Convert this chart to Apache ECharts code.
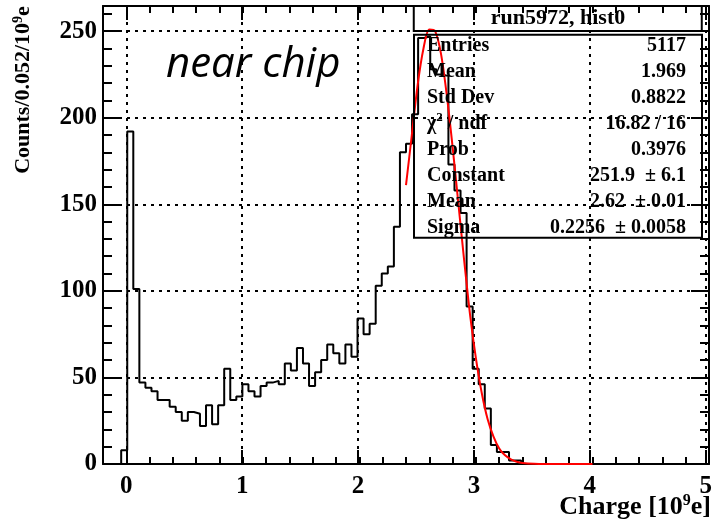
<!DOCTYPE html>
<html>
<head>
<meta charset="utf-8">
<script src="https://cdn.jsdelivr.net/npm/echarts@6/dist/echarts.min.js"></script>
<style>
html,body{margin:0;padding:0;background:#fff;}
#chart{width:715px;height:526px;}
</style>
</head>
<body>
<div id="chart"></div>
<script>
// ---------------- data ----------------
var BIN_LOW = -0.2;
var BIN_WIDTH = 0.052;
var counts = [0,0,0,8,192,101,47,44,42,37,37,33,30,25,30,29,22,34,23,34,
  55,37,39,46,42,39,45,47,48,46,58,54,67,58,45,53,60,69,64,58,69,62,
  84,75,81,103,110,114,137,180,185,202,246,247,228,225,224,173,158,145,
  91,55,46,32,11,7,7,2,2,
  0,0,0,0,0,0,0,0,0,0,0,0,0,0,0,0,0,0,0,0,0,0,0,0,0,0,0,0,0,0,0];
// Gaussian fit curve
var fitX = [2.40,2.45,2.50,2.55,2.60,2.65,2.70,2.75,2.80,2.85,2.90,2.95,3.00,3.05,3.10,3.15,3.20,3.25,3.30,3.35,3.40,3.50,3.60,3.80,4.00];
var fitY = [161,190,219,240,251,250,237,213,183,150,117,86,61,41,26,16,9,5,2.7,1.3,0.6,0.1,0,0,0];
// axes
var X_MIN = -0.2, X_MAX = 5;
var X_MAJOR_MIN = 0, X_MAJOR_STEP = 1, X_MINOR_STEP = 0.2;
var Y_MIN = 0, Y_MAX = 264.5;
var Y_MAJOR_STEP = 50, Y_MINOR_STEP = 10;
// stats box
var statsTitle = 'run5972, hist0';
var statsLabels = ['Entries','Mean','Std Dev','CHI','Prob','Constant','Mean','Sigma'];
var statsValues = ['5117','1.969','0.8822','16.82 / 16','0.3976','251.9  \u00b1 6.1','2.62  \u00b1 0.01','0.2256  \u00b1 0.0058'];
var annotation = 'near chip';

// ---------------- build ----------------
var histData = [];
for (var i = 0; i < counts.length; i++) histData.push([BIN_LOW + i * BIN_WIDTH, counts[i]]);
histData.push([BIN_LOW + counts.length * BIN_WIDTH, counts[counts.length - 1]]);
var fitData = fitX.map(function (x, k) { return [x, fitY[k]]; });

var FONT = 'Liberation Serif';
var BLACK = '#000';
var labelFont = { fontFamily: FONT, fontWeight: 'bold', fontSize: 25, color: BLACK };
var gridLine = { show: true, lineStyle: { color: BLACK, width: 2, type: [3, 5] } };
var W = 715, H = 526, GL = 103, GR = 6, GT = 6, GB = 62;
var plotW = W - GL - GR;
var GL2 = GL + (X_MAJOR_MIN - X_MIN) / (X_MAX - X_MIN) * plotW;

var mctx = document.createElement('canvas').getContext('2d');
function tw(font, s) { mctx.font = font; return mctx.measureText(s).width; }

function ax(base, o) { return Object.assign({ type: 'value' }, base, o); }
function tick(len) { return { show: true, inside: true, length: len, lineStyle: { color: BLACK, width: 2 } }; }
var lineOn = { show: true, onZero: false, lineStyle: { color: BLACK, width: 2 } };
var lineOff = { show: false, onZero: false };
var noLabel = { show: false };
var noSplit = { show: false };
var xBase = { gridIndex: 0, min: X_MIN, max: X_MAX, interval: X_MINOR_STEP };
var xMajBase = { gridIndex: 1, min: X_MAJOR_MIN, max: X_MAX, interval: X_MAJOR_STEP };
var yMinBase = { gridIndex: 0, min: Y_MIN, max: Y_MAX, interval: Y_MINOR_STEP };
var yMajBase = { gridIndex: 0, min: Y_MIN, max: Y_MAX, interval: Y_MAJOR_STEP };

// ---- stats box as bordered title components ----
var BOX_L = 414, BOX_R = 702, BOX_T = 6, HEAD_B = 31;
var LBL_X = 427, VAL_X = 686, ROW_H = 26;
var f20 = 'bold 20px "Liberation Serif"';
var headW = tw('bold 22px "Liberation Serif"', statsTitle);
var headPad = ((BOX_R - BOX_L) - headW) / 2;
var lblW = 130, valW = (VAL_X - LBL_X) - lblW;
var chiW = tw(f20, '\u03c7') + tw('bold 13px "Liberation Serif"', '2');
var tok = function (o) { return Object.assign({ fontFamily: FONT, fontWeight: 'bold', fontSize: 20, color: BLACK, lineHeight: ROW_H }, o); };
var bodyLines = statsLabels.map(function (l, k) {
  if (l === 'CHI') return '{c|\u03c7}{s|2}{n| / ndf}{v|' + statsValues[k] + '}';
  return '{l|' + l + '}{v|' + statsValues[k] + '}';
});
var titles = [
  { text: statsTitle, left: BOX_L, top: BOX_T, padding: [0, headPad, 0, headPad], borderColor: BLACK, borderWidth: 2,
    textStyle: { fontFamily: FONT, fontWeight: 'bold', fontSize: 22, color: BLACK, lineHeight: HEAD_B - BOX_T } },
  { text: bodyLines.join('\n'), left: BOX_L, top: HEAD_B, padding: [1.7, BOX_R - VAL_X, 0, LBL_X - BOX_L], borderColor: BLACK, borderWidth: 2,
    textStyle: { rich: {
      l: tok({ width: lblW, align: 'left' }),
      v: tok({ width: valW, align: 'right' }),
      c: tok({}),
      s: tok({ fontSize: 13, lineHeight: 12, verticalAlign: 'top' }),
      n: tok({ width: lblW - chiW, align: 'left' })
    } } },
  { text: annotation, left: 166, top: 44, padding: 0,
    textStyle: { fontFamily: 'Open Sans', fontStyle: 'italic', fontWeight: 'normal', fontSize: 42, color: BLACK } },
  { text: '{a|Charge [10}{s|9}{a|e]}', right: 4, top: 493, padding: 0,
    textStyle: { rich: {
      a: { fontFamily: FONT, fontWeight: 'bold', fontSize: 26, color: BLACK, lineHeight: 28 },
      s: { fontFamily: FONT, fontWeight: 'bold', fontSize: 16, color: BLACK, lineHeight: 14, verticalAlign: 'top' } } } }
];

var option = {
  animation: false,
  title: titles,
  grid: [
    { left: GL, right: GR, top: GT, bottom: GB },
    { left: GL2, right: GR, top: GT, bottom: GB },
    { left: GL, right: GR, top: GT, bottom: GB },
    { left: GL, right: GR, top: 7, height: 166 }
  ],
  xAxis: [
    ax(xBase, { position: 'bottom', axisLine: lineOn, axisTick: tick(7), axisLabel: noLabel, splitLine: noSplit }),
    ax(xBase, { position: 'top', axisLine: lineOn, axisTick: tick(7), axisLabel: noLabel, splitLine: noSplit }),
    ax(xMajBase, { position: 'bottom', axisLine: lineOff, axisTick: tick(14),
      axisLabel: Object.assign({ show: true, margin: 10 }, labelFont), splitLine: gridLine }),
    ax(xMajBase, { position: 'top', axisLine: lineOff, axisTick: tick(14), axisLabel: noLabel, splitLine: noSplit }),
    ax({ gridIndex: 2, min: X_MIN, max: X_MAX }, { show: false }),
    ax({ gridIndex: 3, min: 0, max: 1 }, { show: false })
  ],
  yAxis: [
    ax(yMinBase, { position: 'left', axisLine: lineOn, axisTick: tick(9), axisLabel: noLabel, splitLine: noSplit }),
    ax(yMinBase, { position: 'right', axisLine: lineOn, axisTick: tick(9), axisLabel: noLabel, splitLine: noSplit }),
    ax(yMajBase, { position: 'left', axisLine: lineOff, axisTick: tick(18),
      axisLabel: Object.assign({ show: true, margin: 6, showMaxLabel: false }, labelFont), splitLine: gridLine }),
    ax(yMajBase, { position: 'right', axisLine: lineOff, axisTick: tick(18), axisLabel: noLabel, splitLine: noSplit }),
    ax({ gridIndex: 1, min: Y_MIN, max: Y_MAX }, { show: false }),
    ax({ gridIndex: 2, min: Y_MIN, max: Y_MAX }, { show: false }),
    ax({ gridIndex: 3, min: 0, max: 1 }, {
      position: 'left', axisLine: lineOff, axisTick: { show: false }, axisLabel: noLabel, splitLine: noSplit,
      name: '{a|Counts/0.052/10}{s|9}{a|e}', nameLocation: 'middle', nameRotate: 90, nameGap: 68,
      nameTextStyle: { rich: {
        a: { fontFamily: FONT, fontWeight: 'bold', fontSize: 22, color: BLACK, lineHeight: 24 },
        s: { fontFamily: FONT, fontWeight: 'bold', fontSize: 14, color: BLACK, lineHeight: 12, verticalAlign: 'top' } } } })
  ],
  series: [
    { type: 'line', xAxisIndex: 0, yAxisIndex: 0, data: histData, step: 'end', showSymbol: false, symbol: 'none',
      lineStyle: { color: BLACK, width: 2 } },
    { type: 'line', xAxisIndex: 4, yAxisIndex: 5, data: fitData, smooth: 0.3, showSymbol: false, symbol: 'none',
      lineStyle: { color: '#ff0000', width: 2 } }
  ]
};
var chart = echarts.init(document.getElementById('chart'), null, { renderer: 'canvas' });
chart.setOption(option);
</script>
</body>
</html>
